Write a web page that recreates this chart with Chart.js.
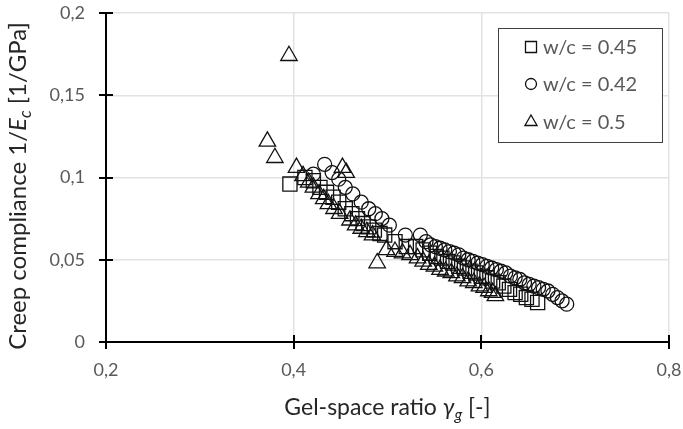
<!DOCTYPE html>
<html><head><meta charset="utf-8">
<script src="https://cdn.jsdelivr.net/npm/chart.js@4.4.1/dist/chart.umd.min.js"></script>
<style>html,body{margin:0;padding:0;background:#fff;}</style>
</head><body>
<canvas id="c" width="683" height="429"></canvas>
<script>
// ---- data ----
const xTicks = [0.2, 0.4, 0.6, 0.8];
const yTicks = [0, 0.05, 0.1, 0.15, 0.2];
const seriesLabels = ['w/c = 0.45', 'w/c = 0.42', 'w/c = 0.5'];

const x045 = [0.396,0.412,0.421,0.428,0.435,0.442,0.448,0.455,0.462,0.468,0.474,0.480,0.486,0.492,0.497,0.508,0.520,0.530,0.538,0.545,0.552,0.558,0.564,0.570,0.576,0.582,0.588,0.594,0.600,0.606,0.612,0.618,0.624,0.630,0.636,0.642,0.648,0.654,0.660];
const y045 = [0.096,0.100,0.098,0.094,0.091,0.088,0.085,0.081,0.078,0.075,0.072,0.070,0.068,0.066,0.065,0.061,0.058,0.058,0.056,0.054,0.052,0.051,0.049,0.048,0.046,0.045,0.043,0.042,0.040,0.039,0.037,0.036,0.034,0.032,0.030,0.029,0.027,0.026,0.024];

const x042 = [0.421,0.433,0.441,0.448,0.455,0.463,0.472,0.480,0.487,0.494,0.502,0.519,0.535,0.541,0.546,0.551,0.556,0.561,0.566,0.571,0.576,0.581,0.586,0.591,0.596,0.601,0.606,0.611,0.616,0.621,0.626,0.631,0.636,0.641,0.646,0.651,0.656,0.661,0.666,0.671,0.676,0.681,0.686,0.691];
const y042 = [0.102,0.108,0.103,0.099,0.094,0.090,0.085,0.081,0.078,0.075,0.071,0.065,0.065,0.061,0.059,0.058,0.057,0.056,0.055,0.054,0.053,0.051,0.050,0.049,0.048,0.047,0.046,0.045,0.044,0.043,0.042,0.040,0.039,0.038,0.036,0.035,0.034,0.033,0.032,0.031,0.029,0.027,0.025,0.023];

const x050 = [0.372,0.380,0.395,0.403,0.410,0.416,0.421,0.427,0.432,0.437,0.443,0.449,0.452,0.456,0.460,0.466,0.472,0.478,0.484,0.489,0.499,0.508,0.516,0.524,0.532,0.538,0.544,0.550,0.556,0.562,0.568,0.574,0.580,0.586,0.592,0.598,0.603,0.608,0.612,0.615];
const y050 = [0.122,0.112,0.174,0.106,0.101,0.097,0.094,0.090,0.087,0.084,0.081,0.078,0.106,0.103,0.074,0.071,0.069,0.067,0.065,0.048,0.056,0.055,0.054,0.053,0.051,0.049,0.047,0.046,0.044,0.043,0.042,0.040,0.039,0.037,0.036,0.034,0.033,0.031,0.030,0.028];

// ---- build ----
const pts = (xs, ys) => xs.map((x, i) => ({x, y: ys[i]}));
const fmt = v => String(+v.toFixed(2)).replace('.', ',');
const FONT = 'Lato, "Open Sans", sans-serif';
const MARK = '#111';

const styles = [
  {pointStyle: 'rect', pointRadius: 10, legendRadius: 7.8},
  {pointStyle: 'circle', pointRadius: 7, legendRadius: 5.5},
  {pointStyle: 'triangle', pointRadius: 9.5, legendRadius: 7}
];
const series = [pts(x045, y045), pts(x042, y042), pts(x050, y050)];

const datasets = series.map((d, i) => ({
  label: seriesLabels[i],
  data: d,
  pointStyle: styles[i].pointStyle,
  pointRadius: styles[i].pointRadius,
  pointHoverRadius: styles[i].pointRadius,
  pointBorderColor: MARK,
  pointBackgroundColor: 'rgba(0,0,0,0)',
  pointBorderWidth: 1.3,
  showLine: false
}));

function richWidth(ctx, segs) {
  let w = 0;
  segs.forEach(s => { ctx.font = s.font; w += ctx.measureText(s.t).width; });
  return w;
}
function drawRich(ctx, segs, cx, cy) {
  const total = richWidth(ctx, segs);
  let x = cx - total / 2;
  segs.forEach(s => {
    ctx.font = s.font;
    ctx.fillText(s.t, x, cy + (s.dy || 0));
    x += ctx.measureText(s.t).width;
  });
}

const extras = {
  id: 'extras',
  afterDraw(chart) {
    const {ctx, scales: {x, y}} = chart;
    ctx.save();
    // crossing tick marks
    ctx.strokeStyle = '#000';
    ctx.lineWidth = 2;
    const ax = x.left, ay = y.bottom;
    yTicks.forEach(v => { const py = Math.round(y.getPixelForValue(v)); ctx.beginPath(); ctx.moveTo(ax - 7, py); ctx.lineTo(ax + 7, py); ctx.stroke(); });
    xTicks.forEach(v => { const px = Math.round(x.getPixelForValue(v)); ctx.beginPath(); ctx.moveTo(px, ay - 7); ctx.lineTo(px, ay + 7); ctx.stroke(); });

    // axis titles
    ctx.fillStyle = '#262626';
    ctx.textBaseline = 'alphabetic';
    ctx.textAlign = 'left';
    const xt = [
      {t: 'Gel-space ratio ', font: `23px ${FONT}`},
      {t: 'γ', font: `italic 23px ${FONT}`},
      {t: 'g', font: `italic 16px ${FONT}`, dy: 5},
      {t: ' [-]', font: `23px ${FONT}`}
    ];
    drawRich(ctx, xt, (x.left + x.right) / 2, 415);
    const yt = [
      {t: 'Creep compliance 1/', font: `24px ${FONT}`},
      {t: 'E', font: `italic 24px ${FONT}`},
      {t: 'c', font: `italic 17px ${FONT}`, dy: 5},
      {t: ' [1/GPa]', font: `24px ${FONT}`}
    ];
    ctx.save();
    ctx.translate(26, 186);
    ctx.rotate(-Math.PI / 2);
    drawRich(ctx, yt, 0, 0);
    ctx.restore();

    // legend box
    const bx = 498, by = 28, bw = 164, bh = 114;
    ctx.fillStyle = '#fff';
    ctx.fillRect(bx, by, bw, bh);
    ctx.strokeStyle = '#404040';
    ctx.lineWidth = 1;
    ctx.strokeRect(bx + 0.5, by + 0.5, bw, bh);
    const rows = [47, 84, 122];
    ctx.font = `20px ${FONT}`;
    ctx.textBaseline = 'middle';
    chart.data.datasets.forEach((ds, i) => {
      ctx.strokeStyle = MARK; ctx.lineWidth = 1.3;
      ctx.fillStyle = 'rgba(0,0,0,0)';
      Chart.helpers.drawPoint(ctx, {pointStyle: styles[i].pointStyle, radius: styles[i].legendRadius, rotation: 0, borderWidth: 1.3}, 531, rows[i]);
      ctx.fillStyle = '#595959';
      ctx.fillText(ds.label, 543, rows[i] + 1);
    });
    ctx.restore();
  }
};

new Chart(document.getElementById('c'), {
  type: 'scatter',
  data: {datasets},
  options: {
    responsive: false,
    animation: false,
    events: [],
    layout: {padding: {left: 0, right: 14, top: 13, bottom: 0}},
    plugins: {legend: {display: false}, tooltip: {enabled: false}},
    scales: {
      x: {
        type: 'linear', min: 0.2, max: 0.8,
        afterBuildTicks: s => { s.ticks = xTicks.map(v => ({value: v})); },
        afterFit: s => { s.height = 87; s.paddingLeft = 0; s.paddingRight = 0; },
        grid: {color: '#e2e2e2', lineWidth: 1.5, drawTicks: false},
        border: {display: true, color: '#000', width: 2},
        ticks: {padding: 17, color: '#595959', font: {family: FONT, size: 18}, callback: v => fmt(v)}
      },
      y: {
        type: 'linear', min: 0, max: 0.2,
        afterBuildTicks: s => { s.ticks = yTicks.map(v => ({value: v})); },
        afterFit: s => { s.width = 106; s.paddingTop = 0; s.paddingBottom = 0; },
        grid: {color: '#e2e2e2', lineWidth: 1.5, drawTicks: false},
        border: {display: true, color: '#000', width: 2},
        ticks: {padding: 21, color: '#595959', font: {family: FONT, size: 18}, callback: v => fmt(v)}
      }
    }
  },
  plugins: [extras]
});
</script>
</body></html>
